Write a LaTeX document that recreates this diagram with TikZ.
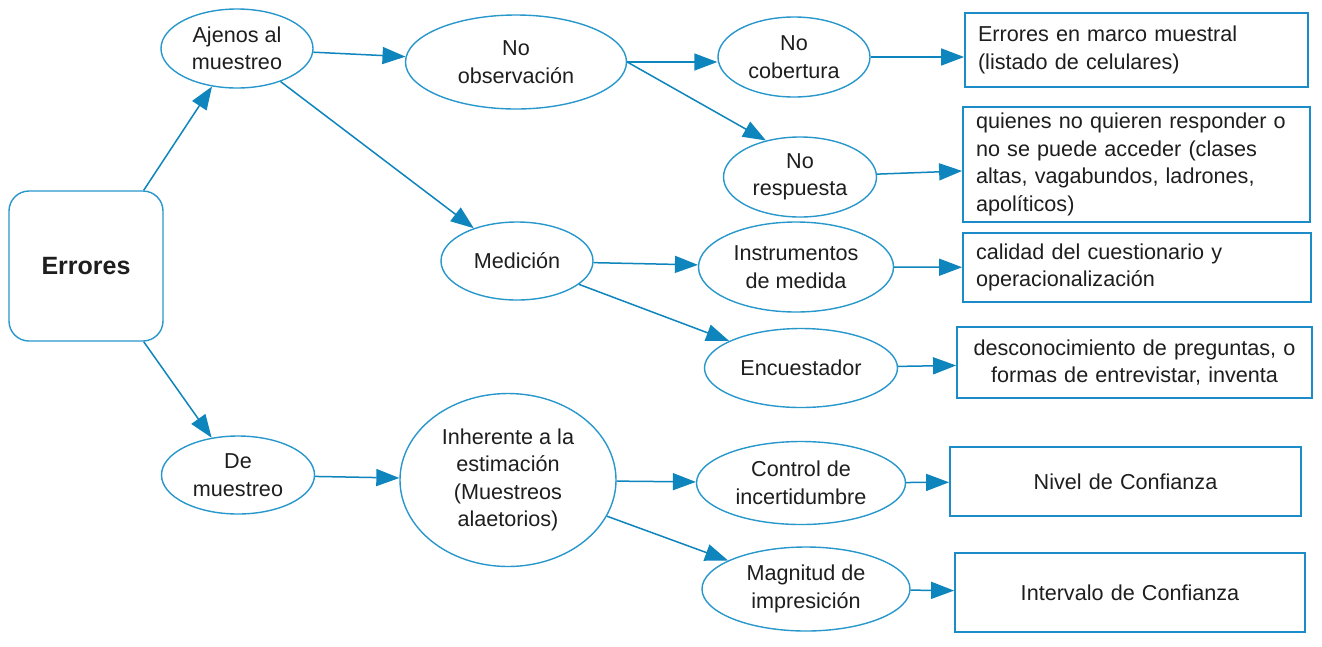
\documentclass[tikz,border=0pt]{standalone}
\usepackage{fontspec}
\setmainfont{Liberation Sans}
\usetikzlibrary{shapes.geometric,arrows.meta}
\definecolor{ellcol}{RGB}{40,152,204}
\definecolor{boxcol}{RGB}{28,140,200}
\definecolor{arrcol}{RGB}{14,133,188}
\definecolor{txtcol}{RGB}{30,30,30}
\begin{document}
\begin{tikzpicture}[x=1pt,y=-1pt,
  every node/.style={text=txtcol, font=\fontsize{21.6}{27.5}\selectfont, inner sep=0pt},
  ell/.style={ellipse, draw=ellcol, line width=1.4pt, align=center},
  tbox/.style={rectangle, draw=boxcol, line width=1.8pt, inner xsep=13pt, inner ysep=0pt},
  conn/.style={draw=arrcol, line width=1.5pt, -{Triangle[length=23pt,width=17pt]}}
]
\fill[white] (0,0) rectangle (1322,646);
\useasboundingbox (0,0) rectangle (1322,646);

% root
\node[rectangle, rounded corners=20pt, draw=ellcol, line width=1.4pt,
      minimum width=154pt, minimum height=150pt,
      font=\fontsize{25}{30}\selectfont\bfseries] (err) at (86,266) {Errores};

% ellipses
\node[ell, minimum width=152pt, minimum height=79pt] (aj) at (237,48.5) {Ajenos al\\muestreo};
\node[ell, minimum width=221pt, minimum height=94pt] (nobs) at (516,62) {No\\observación};
\node[ell, minimum width=152pt, minimum height=78pt] (med) at (517,261) {Medición};
\node[ell, minimum width=152pt, minimum height=80pt] (nocob) at (794,57) {No\\cobertura};
\node[ell, minimum width=153pt, minimum height=80pt] (noresp) at (800,177) {No\\respuesta};
\node[ell, minimum width=195pt, minimum height=90pt] (instr) at (796,267) {Instrumentos\\de medida};
\node[ell, minimum width=193pt, minimum height=79pt] (enc) at (801,368) {Encuestador};
\node[ell, minimum width=153pt, minimum height=78pt] (demu) at (238,475) {De\\muestreo};
\node[ell, minimum width=216pt, minimum height=173pt] (inh) at (508,480) {Inherente a la\\estimación\\(Muestreos\\alaetorios)};
\node[ell, minimum width=209pt, minimum height=83pt] (ctrl) at (801,483) {Control de\\incertidumbre};
\node[ell, minimum width=208pt, minimum height=84pt] (mag) at (806,589) {Magnitud de\\impresición};

% boxes
\node[tbox, text width=317pt, minimum height=74pt, align=left] (r1) at (1136.5,50)
  {Errores en marco muestral\\(listado de celulares)};
\node[tbox, text width=321pt, minimum height=115pt, align=left] (r2) at (1136.5,164.5)
  {quienes no quieren responder o\\no se puede acceder (clases\\altas, vagabundos, ladrones,\\apolíticos)};
\node[tbox, text width=322pt, minimum height=69pt, align=left] (r3) at (1137,267.5)
  {calidad del cuestionario y\\operacionalización};
\node[tbox, text width=329pt, minimum height=71pt, align=center] (r4) at (1134.5,362.5)
  {desconocimiento de preguntas, o\\formas de entrevistar, inventa};
\node[tbox, text width=325pt, minimum height=69pt, align=center] (r5) at (1125.5,481.5)
  {Nivel de Confianza};
\node[tbox, text width=324pt, minimum height=79pt, align=center] (r6) at (1130,592.5)
  {Intervalo de Confianza};

% connectors
\draw[conn] ([xshift=-20pt]err.north east) -- (aj);
\draw[conn] ([xshift=-20pt]err.south east) -- (demu);
\draw[conn] (aj) -- (nobs);
\draw[conn] (aj) -- (med);
\draw[conn] (nobs.east) -- (nobs.east -| nocob.west);
\draw[conn] (nobs.east) -- (noresp.133);
\draw[conn] (nocob.east) -- (nocob.east -| r1.west);
\draw[conn] (noresp) -- (r2);
\draw[conn] (med) -- (instr);
\draw[conn] (med) -- (enc);
\draw[conn] (instr) -- (r3);
\draw[conn] (enc) -- (r4);
\draw[conn] (demu) -- (inh);
\draw[conn] (inh) -- (ctrl);
\draw[conn] (inh) -- (mag);
\draw[conn] (ctrl) -- (r5);
\draw[conn] (mag) -- (r6);
\end{tikzpicture}
\end{document}
